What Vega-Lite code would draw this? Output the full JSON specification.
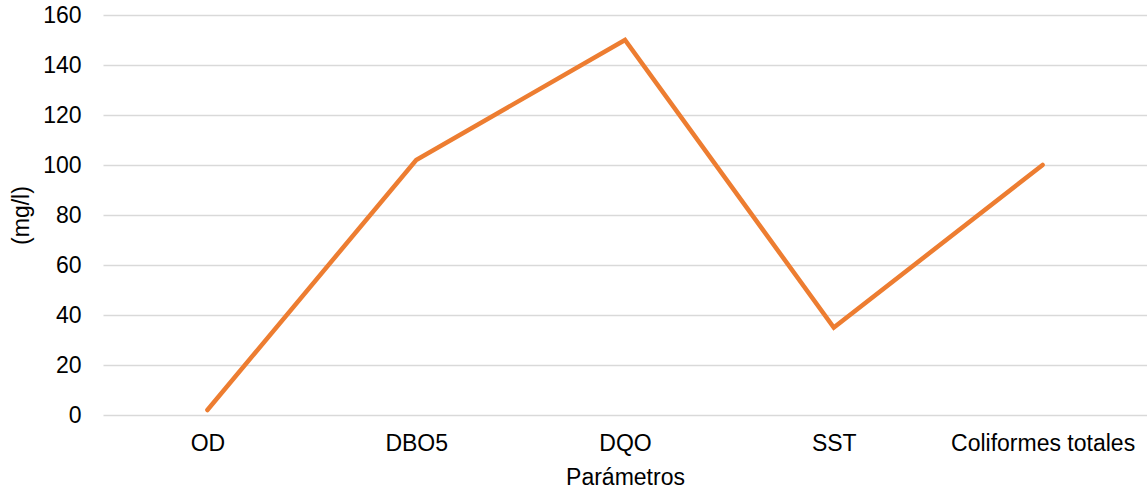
{
  "$schema": "https://vega.github.io/schema/vega-lite/v6.json",
  "width": 1044,
  "height": 400,
  "autosize": {"type": "none"},
  "padding": {"left": 103, "top": 15, "right": 0, "bottom": 75},
  "background": "white",
  "config": {"view": {"stroke": null}, "font": "Liberation Sans"},
  "data": {"values": [
    {"parametro": "OD", "valor": 2},
    {"parametro": "DBO5", "valor": 102},
    {"parametro": "DQO", "valor": 150},
    {"parametro": "SST", "valor": 35},
    {"parametro": "Coliformes totales", "valor": 100}
  ]},
  "mark": {"type": "line", "color": "#ED7D31", "strokeWidth": 4.5, "strokeCap": "round", "strokeJoin": "miter"},
  "encoding": {
    "x": {
      "field": "parametro", "type": "nominal", "sort": null,
      "scale": {"type": "point", "padding": 0.5},
      "axis": {"title": "Parámetros", "labelAngle": 0, "domain": false, "ticks": false, "labelFontSize": 23, "labelColor": "#000000", "labelPadding": 17, "labelLimit": 0, "labelOverlap": false, "labelBound": false, "titleFontSize": 23, "titleFontWeight": "normal", "titleColor": "#000000", "titlePadding": 11, "grid": false}
    },
    "y": {
      "field": "valor", "type": "quantitative",
      "scale": {"domain": [0, 160]},
      "axis": {"title": "(mg/l)", "values": [0, 20, 40, 60, 80, 100, 120, 140, 160], "domain": false, "ticks": false, "labelFontSize": 23, "labelColor": "#000000", "labelPadding": 22, "titleFontSize": 23, "titleFontWeight": "normal", "titleColor": "#000000", "titlePadding": 9, "gridColor": "#d9d9d9", "gridWidth": 1.5}
    }
  }
}
